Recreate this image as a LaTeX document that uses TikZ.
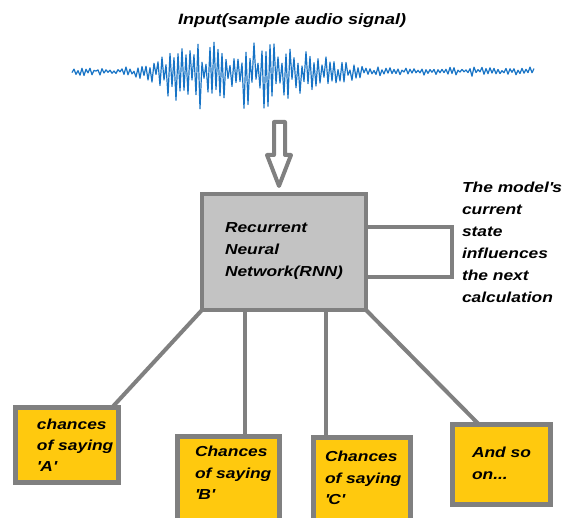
\documentclass[tikz,border=0pt]{standalone}
\usepackage{fontspec}
\setmainfont{Liberation Sans}[FakeStretch=1.2]
\definecolor{edge}{HTML}{808080}
\definecolor{rnnfill}{HTML}{C3C3C3}
\definecolor{outfill}{HTML}{FFC90E}
\definecolor{wavecol}{HTML}{1874C6}
\tikzset{
  every node/.style={inner sep=0pt, outer sep=0pt},
  txt/.style={anchor=base west, font=\fontsize{14.5}{21.5}\selectfont\bfseries\itshape},
  rnnbox/.style={draw=edge, fill=rnnfill, line width=4.5pt, minimum width=164pt, minimum height=116pt},
  outbox/.style={draw=edge, fill=outfill, line width=5pt},
  conn/.style={draw=edge, line width=4pt},
  wave/.style={draw=wavecol, line width=1.2pt, line join=round},
}
\newcommand{\sq}{\textquotesingle}
\begin{document}
\begin{tikzpicture}[x=1pt,y=-1pt,
  declare function={ew(\x)=(\x<230?72:105);
                    env(\x)=3.5+30*exp(-min((abs(\x-230)/ew(\x))^4,30));
                    alt(\x)=cos(90*mod(\x-72,4));}]
\useasboundingbox (0,0) rectangle (574,518);
\fill[white] (0,0) rectangle (574,518);
% title
\node[txt, font=\fontsize{15}{18}\selectfont\bfseries\itshape] (title) at (178,25) {Input(sample audio signal)};
% waveform
\pgfmathsetseed{11}
\draw[wave] plot[domain=72:534, samples=232, variable=\x]
  (\x,{71+env(\x)*alt(\x)*(0.2+0.8*rnd)*(alt(\x)>0?1.2:0.9)+1.5*rand});
% hollow input arrow
\draw[conn, fill=white, line join=round] (274,122) -- (285,122) -- (285,155) -- (291,155) -- (279,186) -- (267,155) -- (274,155) -- cycle;
% coordinates
\coordinate (fbA) at (452,227);
\coordinate (fbB) at (452,277);
\coordinate (lb) at (245,0);
\coordinate (lc) at (326,0);
% boxes
\node[rnnbox] (rnn) at (284,252) {};
\node[outbox, minimum width=103pt, minimum height=75pt] (boxA) at (67,445) {};
\node[outbox, minimum width=102pt, minimum height=103.5pt] (boxB) at (228.5,488.25) {};
\node[outbox, minimum width=97pt, minimum height=102.5pt] (boxC) at (362,488.75) {};
\node[outbox, minimum width=98pt, minimum height=80pt] (boxD) at (501.5,464.5) {};
% connectors
\draw[conn] (rnn.east |- fbA) -- (fbA) -- (fbB) -- (rnn.east |- fbB);
\draw[conn] (rnn.south west) -- ([xshift=-6.5pt]boxA.north east);
\draw[conn] (rnn.south -| lb) -- (boxB.north -| lb);
\draw[conn] (rnn.south -| lc) -- (boxC.north -| lc);
\draw[conn] (rnn.south east) -- ([xshift=26.5pt]boxD.north west);
% texts
\node[txt, font=\fontsize{14.5}{22}\selectfont\bfseries\itshape] (rnntxt) at (225,233)
  {\vtop{\hbox{Recurrent}\hbox{Neural}\hbox{Network(RNN)}}};
\node[txt, font=\fontsize{14.5}{22}\selectfont\bfseries\itshape] (note) at (462,193)
  {\vtop{\hbox{The model\sq s}\hbox{current}\hbox{state}\hbox{influences}\hbox{the next}\hbox{calculation}}};
\node[txt, font=\fontsize{14.5}{21}\selectfont\bfseries\itshape] (tA) at (37,430)
  {\vtop{\hbox{chances}\hbox{of saying}\hbox{\sq A\sq}}};
\node[txt] (tB) at (195,457) {\vtop{\hbox{Chances}\hbox{of saying}\hbox{\sq B\sq}}};
\node[txt] (tC) at (325,462) {\vtop{\hbox{Chances}\hbox{of saying}\hbox{\sq C\sq}}};
\node[txt] (tD) at (472,458) {\vtop{\hbox{And so}\hbox{on...}}};
\end{tikzpicture}
\end{document}
